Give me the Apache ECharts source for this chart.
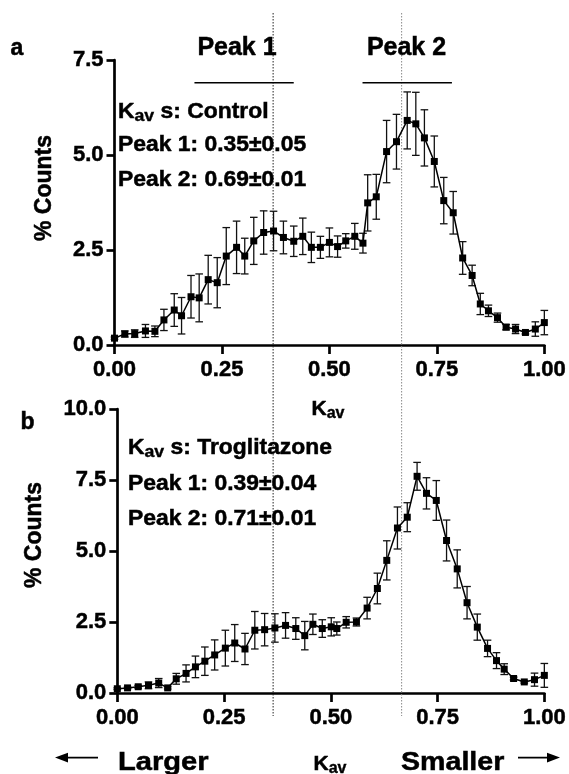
<!DOCTYPE html>
<html><head><meta charset="utf-8">
<script src="https://cdn.jsdelivr.net/npm/echarts@6/dist/echarts.min.js"></script>
<style>html,body{margin:0;padding:0;background:#fff}#c{width:569px;height:774px}</style>
</head><body><div id="c"></div>
<script>
// Panel a: Control
const kavA = [0, 0.024, 0.047, 0.072, 0.094, 0.115, 0.139, 0.156, 0.178, 0.197, 0.218, 0.239, 0.260, 0.284, 0.303, 0.324, 0.347, 0.370, 0.393, 0.417, 0.438, 0.458, 0.479, 0.500, 0.519, 0.538, 0.559, 0.578, 0.589, 0.609, 0.633, 0.656, 0.681, 0.701, 0.721, 0.744, 0.766, 0.788, 0.810, 0.832, 0.851, 0.870, 0.891, 0.911, 0.933, 0.956, 0.979, 1.0];
const countsA = [0.18, 0.29, 0.30, 0.37, 0.36, 0.66, 0.92, 0.77, 1.27, 1.24, 1.72, 1.64, 2.34, 2.57, 2.34, 2.74, 2.96, 3.00, 2.83, 2.73, 2.86, 2.57, 2.57, 2.70, 2.59, 2.74, 2.86, 2.68, 3.74, 3.90, 5.09, 5.35, 5.91, 5.82, 5.45, 4.83, 3.80, 3.48, 2.29, 1.83, 1.08, 0.90, 0.72, 0.47, 0.42, 0.33, 0.42, 0.59];
const errA = [0.03, 0.08, 0.10, 0.17, 0.14, 0.28, 0.43, 0.48, 0.56, 0.63, 0.64, 0.66, 0.75, 0.69, 0.47, 0.62, 0.57, 0.52, 0.43, 0.40, 0.48, 0.40, 0.29, 0.38, 0.28, 0.19, 0.34, 0.26, 0.74, 0.59, 0.82, 0.72, 0.75, 0.83, 0.74, 0.67, 0.61, 0.56, 0.43, 0.27, 0.28, 0.15, 0.12, 0.07, 0.12, 0.04, 0.19, 0.32];
// Panel b: Troglitazone
const kavB = [0, 0.024, 0.049, 0.073, 0.097, 0.118, 0.138, 0.161, 0.183, 0.205, 0.228, 0.253, 0.275, 0.299, 0.322, 0.345, 0.369, 0.394, 0.418, 0.439, 0.458, 0.480, 0.501, 0.514, 0.536, 0.560, 0.585, 0.609, 0.631, 0.656, 0.679, 0.702, 0.724, 0.747, 0.771, 0.796, 0.819, 0.843, 0.867, 0.888, 0.906, 0.928, 0.953, 0.977, 1.0];
const countsB = [0.15, 0.18, 0.22, 0.27, 0.35, 0.18, 0.50, 0.69, 0.92, 1.12, 1.34, 1.58, 1.76, 1.55, 2.21, 2.23, 2.29, 2.38, 2.27, 2.02, 2.42, 2.27, 2.33, 2.27, 2.49, 2.50, 2.99, 3.68, 4.67, 5.81, 6.19, 7.63, 7.03, 6.78, 5.37, 4.37, 3.18, 2.32, 1.57, 1.14, 0.84, 0.51, 0.39, 0.47, 0.62];
const errB = [0.03, 0.03, 0.05, 0.12, 0.16, 0.04, 0.19, 0.30, 0.38, 0.50, 0.53, 0.63, 0.65, 0.55, 0.66, 0.57, 0.50, 0.45, 0.38, 0.50, 0.36, 0.31, 0.32, 0.23, 0.20, 0.14, 0.38, 0.54, 0.69, 0.74, 0.51, 0.49, 0.55, 0.70, 0.72, 0.67, 0.57, 0.46, 0.29, 0.28, 0.19, 0.05, 0.04, 0.23, 0.42];
// Axis ranges / ticks
const xRange = [0, 1, 0.25];
const yRangeA = [0, 7.5, 2.5];
const yRangeB = [0, 10, 2.5];
// Reference lines (Kav) and peak spans
const peakLines = [0.369, 0.668];
const peakSpans = [[0.186, 0.417], [0.577, 0.785]];
const peakSpanY = 6.9;
const annotA = ['Control', 'Peak 1: 0.35±0.05', 'Peak 2: 0.69±0.01'];
const annotB = ['Troglitazone', 'Peak 1: 0.39±0.04', 'Peak 2: 0.71±0.01'];

const FF = "'Liberation Sans', Arial, Helvetica, sans-serif";
const chart = echarts.init(document.getElementById('c'), null, {renderer: 'canvas'});

function xAxisCfg(gi) {
  return {
    type: 'value', gridIndex: gi, min: xRange[0], max: xRange[1], interval: xRange[2],
    axisLine: {onZero: false, lineStyle: {color: '#000', width: 2.7}},
    axisTick: {length: 9, lineStyle: {color: '#000', width: 2.7}},
    axisLabel: {formatter: v => v.toFixed(2), fontSize: 22, fontWeight: 'bold', color: '#000', fontFamily: FF, margin: 14,
      textBorderColor: '#000', textBorderWidth: 0.5},
    splitLine: {show: false}
  };
}
function yAxisCfg(gi, r) {
  return {
    type: 'value', gridIndex: gi, min: r[0], max: r[1], interval: r[2],
    axisLine: {show: true, onZero: false, lineStyle: {color: '#000', width: 2.7}},
    axisTick: {show: true, length: 8, lineStyle: {color: '#000', width: 2.7}},
    axisLabel: {formatter: v => v.toFixed(1), fontSize: 22, fontWeight: 'bold', color: '#000', fontFamily: FF, margin: 11,
      textBorderColor: '#000', textBorderWidth: 0.5},
    splitLine: {show: false}
  };
}
function lineSeries(xs, ys, gi) {
  return {
    type: 'line', xAxisIndex: gi, yAxisIndex: gi,
    data: xs.map((x, i) => [x, ys[i]]),
    symbol: 'rect', symbolSize: 7, showSymbol: true, clip: false,
    lineStyle: {color: '#000', width: 1.5}, itemStyle: {color: '#000'},
    z: 3, animation: false
  };
}
function errSeries(xs, ys, es, gi) {
  return {
    type: 'custom', xAxisIndex: gi, yAxisIndex: gi, clip: false,
    data: xs.map((x, i) => [x, ys[i] - es[i], ys[i] + es[i]]),
    encode: {x: 0, y: [1, 2]},
    renderItem: (params, api) => {
      const lo = api.coord([api.value(0), api.value(1)]);
      const hi = api.coord([api.value(0), api.value(2)]);
      const w = 3.8;
      const st = {stroke: '#111', lineWidth: 1.3};
      return {type: 'group', children: [
        {type: 'line', shape: {x1: lo[0], y1: lo[1], x2: hi[0], y2: hi[1]}, style: st},
        {type: 'line', shape: {x1: lo[0] - w, y1: lo[1], x2: lo[0] + w, y2: lo[1]}, style: st},
        {type: 'line', shape: {x1: hi[0] - w, y1: hi[1], x2: hi[0] + w, y2: hi[1]}, style: st}
      ]};
    },
    z: 2, animation: false
  };
}

chart.setOption({
  animation: false,
  backgroundColor: '#fff',
  grid: [
    {left: 114.5, right: 24.5, top: 60, bottom: 429},
    {left: 117.3, right: 24, top: 409, bottom: 81}
  ],
  xAxis: [xAxisCfg(0), xAxisCfg(1)],
  yAxis: [yAxisCfg(0, yRangeA), yAxisCfg(1, yRangeB)],
  series: [
    errSeries(kavA, countsA, errA, 0), lineSeries(kavA, countsA, 0),
    errSeries(kavB, countsB, errB, 1), lineSeries(kavB, countsB, 1)
  ]
});

function bold(size) { return 'bold ' + size + 'px ' + FF; }
function txt(x, y, text, size, align, rot, sx) {
  return {type: 'text', x: x, y: y, rotation: rot || 0, scaleX: sx || 1, z: 10,
    style: {text: text, font: bold(size), fill: '#000', stroke: '#000', lineWidth: 0.5,
      textAlign: align || 'left', textVerticalAlign: 'middle'}};
}
function kavTxt(x, y, rest, big, small, align, sx) {
  return {type: 'text', x: x, y: y, scaleX: sx || 1, z: 10,
    style: {
      text: '{k|K}{s|av}' + (rest ? '{k|' + rest + '}' : ''),
      textAlign: align || 'left', textVerticalAlign: 'middle',
      rich: {
        k: {fontSize: big, fontWeight: 'bold', fontFamily: FF, lineHeight: big + 4, fill: '#000', stroke: '#000', lineWidth: 0.5, verticalAlign: 'middle'},
        s: {fontSize: small, fontWeight: 'bold', fontFamily: FF, lineHeight: small - 2, fill: '#000', stroke: '#000', lineWidth: 0.4, verticalAlign: 'bottom'}
      }
    }};
}

const g = [];
// dotted reference lines spanning both panels
peakLines.forEach((v, i) => {
  const px = chart.convertToPixel({gridIndex: 0}, [v, 0])[0];
  g.push({type: 'line', z: 1, shape: {x1: px, y1: 13, x2: px, y2: 716},
    style: {stroke: i === 0 ? '#222' : '#888', lineWidth: 1, lineDash: [1.5, 1.5]}});
});
// peak spans
peakSpans.forEach(s => {
  const p1 = chart.convertToPixel({gridIndex: 0}, [s[0], peakSpanY]);
  const p2 = chart.convertToPixel({gridIndex: 0}, [s[1], peakSpanY]);
  g.push({type: 'line', z: 5, shape: {x1: p1[0], y1: p1[1], x2: p2[0], y2: p2[1]}, style: {stroke: '#000', lineWidth: 1.4}});
});
g.push(txt(237, 48, 'Peak 1', 25, 'center'));
g.push(txt(406.5, 48, 'Peak 2', 25, 'center'));
// panel letters
g.push(txt(17, 49, 'a', 23, 'center'));
g.push(txt(27.5, 423, 'b', 23, 'center'));
// y axis names
g.push(txt(45, 188, '% Counts', 23, 'center', Math.PI / 2));
g.push(txt(35, 535, '% Counts', 23, 'center', Math.PI / 2));
// annotations
g.push(kavTxt(118, 111.5, ' s: ' + annotA[0], 22, 17, 'left', 1.04));
g.push(txt(118, 145, annotA[1], 22, 'left', 0, 1.04));
g.push(txt(118, 180, annotA[2], 22, 'left', 0, 1.04));
g.push(kavTxt(128, 448, ' s: ' + annotB[0], 22, 17, 'left', 1.04));
g.push(txt(128, 484, annotB[1], 22, 'left', 0, 1.04));
g.push(txt(128, 519, annotB[2], 22, 'left', 0, 1.04));
// axis names
g.push(kavTxt(328, 409, '', 21, 16, 'center'));
g.push(kavTxt(330, 764, '', 21, 16, 'center'));
g.push(txt(118, 763, 'Larger', 26, 'left', 0, 1.12));
g.push(txt(401, 763, 'Smaller', 26, 'left', 0, 1.1));
// arrows
g.push({type: 'line', shape: {x1: 64, y1: 757.6, x2: 98, y2: 757.6}, style: {stroke: '#000', lineWidth: 1.6}});
g.push({type: 'polygon', shape: {points: [[55, 757.6], [68, 752.8], [68, 762.4]]}, style: {fill: '#000'}});
g.push({type: 'line', shape: {x1: 518, y1: 757.6, x2: 551, y2: 757.6}, style: {stroke: '#000', lineWidth: 1.6}});
g.push({type: 'polygon', shape: {points: [[560, 757.6], [547, 752.8], [547, 762.4]]}, style: {fill: '#000'}});

chart.setOption({graphic: g});
</script>
</body></html>
